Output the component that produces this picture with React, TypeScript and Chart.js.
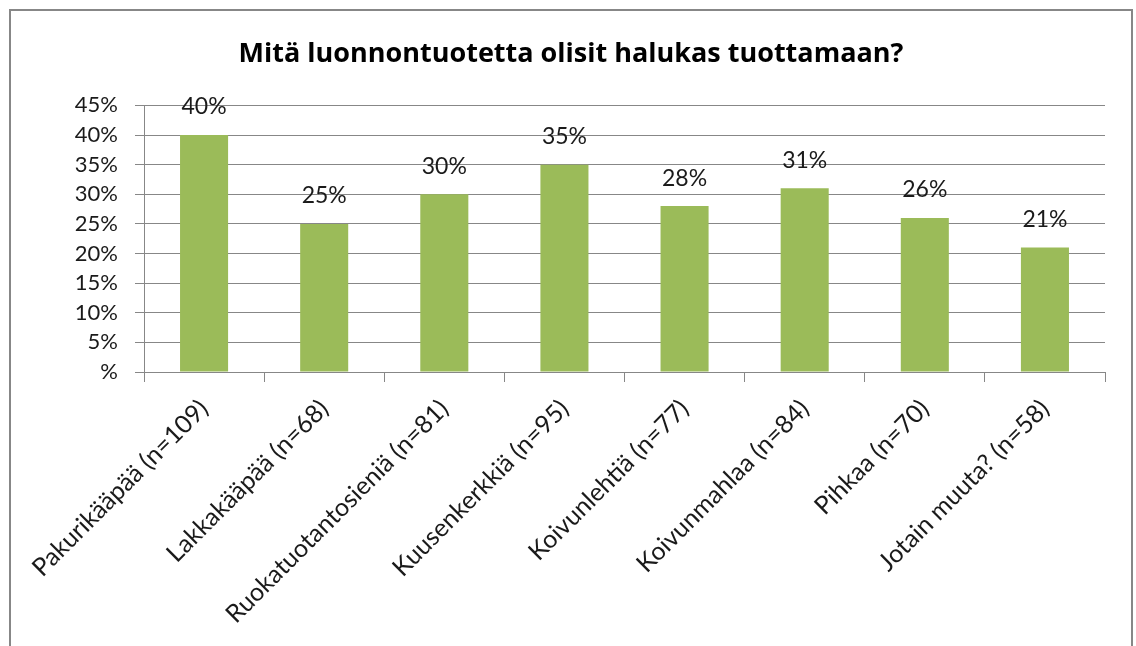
import React, { useEffect, useRef } from "react";
import { Chart, registerables } from "chart.js";

Chart.register(...registerables);

const categories = [
  "Pakurikääpää (n=109)",
  "Lakkakääpää (n=68)",
  "Ruokatuotantosieniä (n=81)",
  "Kuusenkerkkiä (n=95)",
  "Koivunlehtiä (n=77)",
  "Koivunmahlaa (n=84)",
  "Pihkaa (n=70)",
  "Jotain muuta? (n=58)",
];
const values = [40, 25, 30, 35, 28, 31, 26, 21];
const titleText = "Mitä luonnontuotetta olisit halukas tuottamaan?";
const yMax = 45;
const yStep = 5;

const FONT = "Lato, 'Open Sans', sans-serif";
const TITLE_FONT = "'Open Sans', Lato, sans-serif";
const TEXT = "#1a1a1a";
const GRID = "#878787";
const BAR = "#9bbb59";

const CW = 1120;
const CH = 635;

const barLabels = {
  id: "barLabels",
  afterDatasetsDraw(chart: any) {
    const ctx = chart.ctx;
    const meta = chart.getDatasetMeta(0);
    ctx.save();
    ctx.font = `23px ${FONT}`;
    ctx.fillStyle = TEXT;
    ctx.textAlign = "center";
    ctx.textBaseline = "middle";
    meta.data.forEach((bar: any, i: number) => {
      ctx.fillText(values[i] + "%", bar.x, bar.y - 28);
    });
    ctx.restore();
  },
};

export default function App() {
  const ref = useRef<HTMLCanvasElement | null>(null);
  useEffect(() => {
    if (!ref.current) return;
    const chart = new Chart(ref.current, {
      type: "bar",
      data: {
        labels: categories,
        datasets: [
          {
            data: values,
            backgroundColor: BAR,
            borderWidth: 0,
            barPercentage: 0.4,
            categoryPercentage: 1,
          },
        ],
      },
      plugins: [barLabels],
      options: {
        responsive: false,
        animation: false,
        layout: { padding: { left: 26, right: 26, top: 0, bottom: 0 } },
        plugins: {
          legend: { display: false },
          tooltip: { enabled: false },
          title: {
            display: true,
            text: titleText,
            color: "#000",
            font: { family: TITLE_FONT, size: 27, weight: "bold", lineHeight: 1.2 },
            padding: { top: 27, bottom: 35 },
          },
        },
        scales: {
          x: {
            offset: true,
            grid: {
              offset: true,
              drawOnChartArea: false,
              drawTicks: true,
              tickLength: 10,
              color: GRID,
            },
            border: { display: true, color: GRID, width: 1 },
            ticks: {
              color: TEXT,
              font: { family: FONT, size: 25 },
              maxRotation: 45,
              minRotation: 45,
              autoSkip: false,
              padding: 12,
            },
            afterFit(scale: any) {
              scale.height = CH - 361;
            },
          },
          y: {
            min: 0,
            max: yMax,
            grid: { color: GRID, tickLength: 9, drawTicks: true },
            border: { display: true, color: GRID, width: 1 },
            ticks: {
              stepSize: yStep,
              color: TEXT,
              font: { family: FONT, size: 22 },
              padding: 17,
              callback: (v: any) => (v === 0 ? "%" : v + "%"),
            },
            afterFit(scale: any) {
              scale.width = 107;
            },
          },
        },
      },
    } as any);
    return () => chart.destroy();
  }, []);

  return (
    <div
      style={{
        position: "absolute",
        left: 9,
        top: 9,
        width: CW + 4,
        height: CH + 2,
        boxSizing: "border-box",
        border: `2px solid ${GRID}`,
        borderBottom: "none",
        background: "#fff",
      }}
    >
      <canvas ref={ref} width={CW} height={CH} style={{ display: "block" }} />
    </div>
  );
}
